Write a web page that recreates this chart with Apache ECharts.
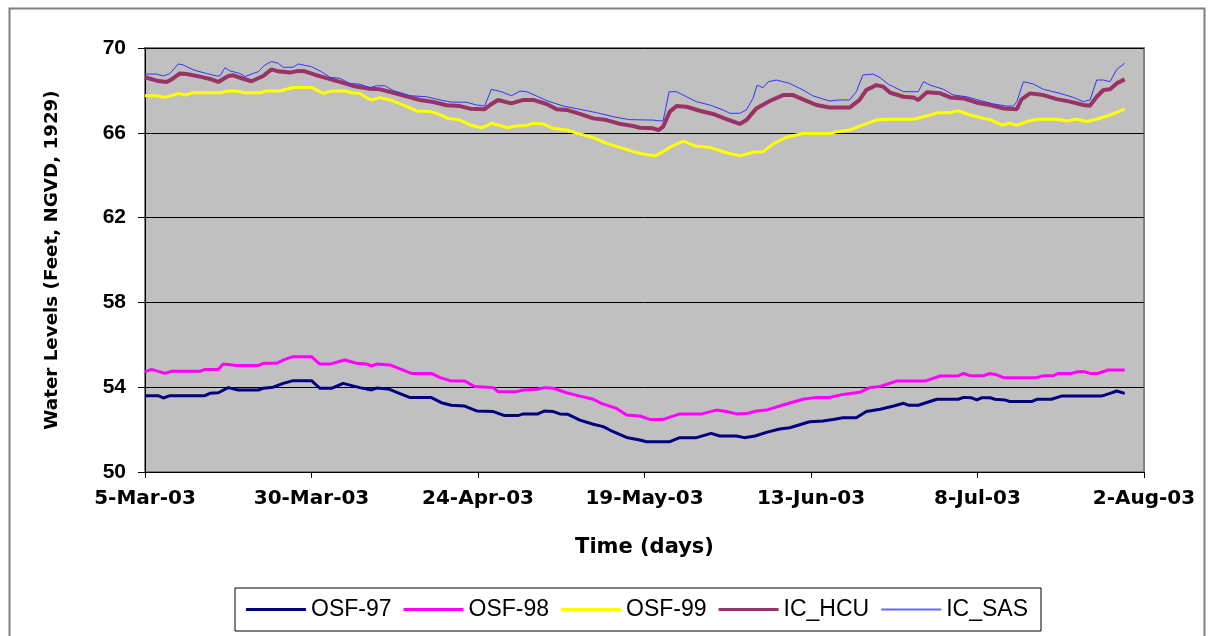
<!DOCTYPE html>
<html>
<head>
<meta charset="utf-8">
<script src="https://cdn.jsdelivr.net/npm/echarts@6/dist/echarts.min.js"></script>
<style>
html,body{margin:0;padding:0;background:#fff;}
#chart{width:1214px;height:636px;}
</style>
</head>
<body>
<div id="chart"></div>
<script>
// ---- data (day offset from 5-Mar-03, water level ft NGVD 1929) ----
const xTickLabels = ['5-Mar-03','30-Mar-03','24-Apr-03','19-May-03','13-Jun-03','8-Jul-03','2-Aug-03'];
const seriesNames = ['OSF-97','OSF-98','OSF-99','IC_HCU','IC_SAS'];

const OSF97 = [[0,53.6],[2,53.6],[2.75,53.49],[3.75,53.6],[9,53.6],[9.75,53.71],[11,53.74],[12.5,53.98],[14,53.87],[17,53.87],[17.75,53.95],[19.25,54.0],[20.75,54.18],[22.25,54.31],[25,54.31],[26.25,53.95],[28,53.95],[29.75,54.18],[30.75,54.1],[32.25,53.98],[34,53.87],[34.75,53.96],[36.5,53.92],[39.8,53.51],[43,53.51],[44.5,53.27],[46,53.15],[48,53.11],[49.8,52.88],[52.3,52.85],[54,52.66],[56,52.66],[56.8,52.74],[59,52.74],[60,52.88],[61.3,52.85],[62.3,52.74],[63.5,52.72],[65.3,52.45],[67.3,52.25],[68.8,52.14],[70.3,51.9],[72.3,51.63],[74.3,51.51],[75.3,51.43],[78.8,51.43],[80.3,51.62],[82.8,51.62],[85,51.82],[86.3,51.7],[88.8,51.7],[90,51.62],[91.6,51.7],[93.3,51.87],[95.3,52.03],[96.8,52.09],[99.8,52.37],[101.8,52.41],[103.3,52.48],[104.8,52.56],[106.8,52.56],[108.3,52.85],[110.4,52.96],[112.4,53.11],[113.9,53.24],[114.6,53.15],[116.1,53.15],[118.9,53.43],[122.1,53.43],[122.9,53.52],[124.1,53.5],[124.9,53.4],[125.6,53.5],[126.9,53.5],[127.6,53.43],[129.1,53.4],[129.9,53.32],[133.1,53.32],[133.9,53.43],[136.1,53.43],[137.6,53.58],[143.6,53.58],[144.9,53.71],[145.9,53.82],[147.1,53.71]];

const OSF98 = [[0,54.73],[1,54.84],[3,54.65],[4,54.75],[8.25,54.75],[9,54.84],[11,54.84],[11.75,55.09],[13.75,55.02],[17,55.02],[17.75,55.13],[19.75,55.13],[21,55.31],[22.25,55.44],[25,55.44],[26.25,55.09],[27.75,55.09],[30,55.28],[31.75,55.13],[33.25,55.1],[34,55.0],[34.75,55.09],[36.8,55.05],[38.3,54.86],[40,54.65],[43,54.65],[44.3,54.45],[45.8,54.31],[48,54.29],[49.5,54.03],[52.3,53.98],[53,53.79],[55.8,53.79],[56.8,53.87],[59,53.9],[60,53.98],[61.3,53.95],[63.3,53.74],[65.3,53.58],[67.3,53.43],[68.5,53.24],[70.8,53.0],[72.3,52.69],[74.3,52.64],[75.8,52.48],[77.8,52.48],[80.3,52.74],[83.6,52.74],[85.8,52.92],[87.3,52.85],[88.8,52.74],[90.6,52.77],[91.8,52.88],[93.3,52.92],[95.8,53.16],[98.8,53.43],[100.8,53.52],[102.8,53.52],[104.8,53.66],[107.3,53.76],[108.8,53.98],[110.3,54.03],[112.9,54.29],[117.1,54.29],[119.4,54.53],[122.1,54.54],[122.9,54.65],[123.9,54.54],[125.9,54.54],[126.9,54.65],[127.9,54.58],[128.9,54.45],[133.9,54.45],[134.9,54.54],[136.4,54.54],[137.1,54.65],[139.1,54.65],[140.1,54.73],[141.1,54.73],[141.9,54.65],[143.1,54.65],[144.6,54.81],[147.1,54.81]];

const OSF99 = [[0,67.75],[1.75,67.75],[3,67.67],[4,67.75],[5,67.86],[6,67.78],[7.25,67.89],[11.25,67.89],[12.5,67.97],[13.75,67.97],[15,67.89],[17.25,67.89],[18.25,67.97],[20.25,67.97],[22.25,68.14],[25,68.14],[26.75,67.86],[28,67.97],[30,67.97],[31,67.89],[32.25,67.86],[33,67.7],[34,67.55],[35.25,67.66],[36.8,67.55],[38.8,67.31],[40.8,67.03],[42.8,67.0],[44,66.89],[45.5,66.68],[47.3,66.6],[48.8,66.37],[50.5,66.24],[51.3,66.32],[52,66.45],[53,66.37],[54.5,66.24],[55.8,66.32],[57.3,66.35],[58.3,66.45],[59.8,66.42],[61.3,66.21],[63.3,66.13],[65.3,65.94],[67.3,65.77],[69.3,65.5],[71.3,65.31],[73.3,65.11],[74.3,65.03],[76.6,64.91],[77.8,65.11],[79,65.35],[80.8,65.61],[82.6,65.38],[84.8,65.31],[87.3,65.06],[89.3,64.91],[91.3,65.08],[92.8,65.11],[94.3,65.47],[96.3,65.79],[98.8,65.97],[102.8,65.97],[103.8,66.05],[105.8,66.13],[107.8,66.37],[109.8,66.6],[111.8,66.64],[115.4,66.64],[117.4,66.79],[119.1,66.95],[120.9,66.95],[122.1,67.04],[123.9,66.84],[125.9,66.68],[127.1,66.6],[128.6,66.37],[129.9,66.45],[130.9,66.35],[132.4,66.53],[134.1,66.64],[136.9,66.64],[138.4,66.56],[139.9,66.64],[141.4,66.53],[142.9,66.64],[144.9,66.84],[147.1,67.12]];

const IC_HCU = [[0,68.62],[1.75,68.46],[3.25,68.4],[4,68.52],[5.25,68.8],[6.25,68.77],[8.25,68.65],[9.75,68.54],[11,68.4],[12.5,68.68],[13.25,68.71],[14.75,68.55],[16,68.43],[17.75,68.68],[19,68.99],[20,68.9],[21.75,68.84],[23,68.92],[24,68.9],[25.5,68.74],[27.25,68.58],[29.25,68.4],[31.25,68.21],[33.75,68.08],[35.3,68.05],[37.3,67.89],[39.8,67.67],[41.3,67.55],[43.3,67.45],[45.3,67.3],[47.3,67.26],[48.8,67.14],[51,67.11],[51.8,67.31],[53,67.55],[55,67.39],[56.8,67.55],[58.3,67.55],[60.3,67.36],[61.8,67.11],[63.3,67.08],[65.3,66.89],[67.3,66.68],[69.3,66.6],[71.3,66.42],[73.3,66.32],[74.3,66.24],[76.3,66.21],[77.1,66.13],[77.8,66.29],[78.8,67.0],[79.8,67.26],[81.3,67.23],[83.3,67.04],[85.3,66.89],[87.3,66.64],[89.3,66.42],[90.3,66.6],[91.8,67.15],[93.8,67.5],[95.8,67.78],[97.3,67.78],[98.8,67.58],[100.8,67.31],[102.8,67.19],[105.8,67.19],[107.3,67.55],[108.3,68.02],[109.8,68.25],[110.8,68.18],[111.9,67.89],[113.9,67.7],[115.4,67.67],[116.1,67.55],[117.4,67.91],[119.4,67.86],[120.9,67.67],[122.9,67.62],[124.9,67.42],[126.9,67.31],[128.9,67.15],[130.9,67.11],[131.6,67.58],[132.9,67.86],[134.9,67.78],[136.9,67.59],[138.9,67.47],[140.9,67.31],[141.9,67.28],[142.9,67.7],[143.9,68.02],[144.9,68.05],[145.9,68.33],[147.1,68.52]];

const IC_SAS = [[0,68.77],[1.75,68.77],[2.75,68.68],[3.75,68.8],[5,69.25],[5.75,69.2],[6.75,69.04],[7.75,68.92],[9.25,68.8],[10.75,68.68],[11.25,68.68],[12,69.07],[12.75,68.92],[14.25,68.8],[15,68.65],[16.25,68.8],[17,68.88],[18,69.2],[19,69.36],[20,69.28],[20.75,69.09],[22.25,69.09],[23,69.25],[24,69.18],[25,69.12],[26.5,68.88],[27.75,68.62],[29.25,68.57],[30.75,68.33],[32.25,68.29],[33.75,68.13],[34.75,68.22],[36,68.22],[37.3,67.99],[39.8,67.75],[42.3,67.7],[44.3,67.55],[46,67.45],[48.3,67.44],[49.8,67.31],[51,67.26],[52,68.05],[53.5,67.94],[55,67.75],[56.3,67.97],[57.3,67.94],[58.5,67.78],[60.3,67.52],[62.8,67.26],[65.3,67.11],[67.8,66.95],[70.3,66.76],[72.8,66.62],[76.3,66.6],[77.3,66.56],[77.8,66.57],[78.7,67.94],[79.8,67.94],[81.3,67.7],[82.8,67.47],[84.8,67.31],[86.8,67.08],[87.8,66.92],[89.3,66.92],[90.3,67.08],[91.3,67.63],[91.9,68.25],[92.8,68.13],[93.6,68.41],[94.8,68.49],[96.8,68.33],[98.8,68.02],[100.3,67.74],[102.8,67.5],[104.3,67.55],[105.8,67.55],[106.8,67.94],[107.8,68.73],[109.3,68.77],[110.4,68.6],[111.6,68.29],[113.9,67.94],[116.1,67.94],[116.9,68.41],[117.9,68.25],[119.9,68.05],[121.4,67.78],[123.4,67.7],[125.4,67.52],[127.4,67.36],[129.4,67.26],[130.4,67.26],[130.9,67.47],[131.9,68.41],[133.4,68.3],[134.9,68.05],[137.4,67.86],[139.4,67.67],[140.9,67.47],[141.9,67.55],[142.9,68.49],[143.9,68.49],[144.9,68.41],[145.9,68.99],[147.1,69.28]];

const seriesData = [OSF97, OSF98, OSF99, IC_HCU, IC_SAS];
const seriesColors = ['#000080','#FF00FF','#FFFF00','#993366','#3333FF'];
const seriesWidths = [3, 3, 3, 4, 1];
const legendColors = ['#000080','#FF00FF','#FFFF00','#993366','#6666FF'];
const legendIcons = [
  'path://M0,0L60,0L60,3L0,3Z',
  'path://M0,0L60,0L60,3L0,3Z',
  'path://M0,0L60,0L60,3L0,3Z',
  'path://M0,0L60,0L60,3L0,3Z',
  'path://M0,0L60,0L60,2L0,2Z'
];

const chart = echarts.init(document.getElementById('chart'), null, {renderer: 'canvas'});
const option = {
  backgroundColor: '#ffffff',
  animation: false,
  graphic: [{
    type: 'rect', silent: true, z: -10,
    shape: {x: 9.5, y: 8.5, width: 1195, height: 640},
    style: {fill: 'none', stroke: '#808080', lineWidth: 2}
  }],
  grid: {
    left: 145, right: 70, top: 48, bottom: 164,
    show: true, backgroundColor: '#C0C0C0', borderColor: '#808080', borderWidth: 2
  },
  xAxis: {
    type: 'value', min: 0, max: 150, interval: 25,
    name: 'Time (days)', nameLocation: 'middle', nameGap: 65,
    nameTextStyle: {fontFamily: 'DejaVu Sans', fontWeight: 'bold', fontSize: 21, color: '#000'},
    axisLine: {show: true, lineStyle: {color: '#000', width: 1}},
    axisTick: {show: true, length: 6, lineStyle: {color: '#000'}},
    axisLabel: {
      margin: 17, color: '#000', fontFamily: 'DejaVu Sans', fontWeight: 'bold', fontSize: 20,
      formatter: v => xTickLabels[Math.round(v / 25)] || ''
    },
    splitLine: {show: false}
  },
  yAxis: {
    type: 'value', min: 50, max: 70, interval: 4,
    name: 'Water Levels (Feet, NGVD, 1929)', nameLocation: 'middle', nameGap: 84,
    nameTextStyle: {fontFamily: 'DejaVu Sans', fontWeight: 'bold', fontSize: 18.3, color: '#000'},
    axisLine: {show: true, lineStyle: {color: '#000', width: 1}},
    axisTick: {show: true, length: 7, lineStyle: {color: '#000'}},
    axisLabel: {margin: 19, color: '#000', fontFamily: 'Liberation Sans', fontWeight: 'bold', fontSize: 21},
    splitLine: {show: true, lineStyle: {color: '#000', width: 1}}
  },
  legend: {
    left: 235, top: 588,
    padding: [10, 13, 10, 11],
    borderColor: '#000', borderWidth: 1,
    itemWidth: 60, itemHeight: 14, itemGap: 12,
    textStyle: {fontFamily: 'Liberation Sans', fontSize: 23, color: '#000'},
    data: seriesNames.map((n, i) => ({
      name: n,
      icon: legendIcons[i],
      itemStyle: {color: legendColors[i], borderWidth: 0}
    }))
  },
  series: seriesNames.map((n, i) => ({
    name: n, type: 'line', data: seriesData[i], symbol: 'none', showSymbol: false,
    lineStyle: {color: seriesColors[i], width: seriesWidths[i]},
    itemStyle: {color: seriesColors[i]},
    z: 2 + i
  }))
};
chart.setOption(option);
</script>
</body>
</html>
